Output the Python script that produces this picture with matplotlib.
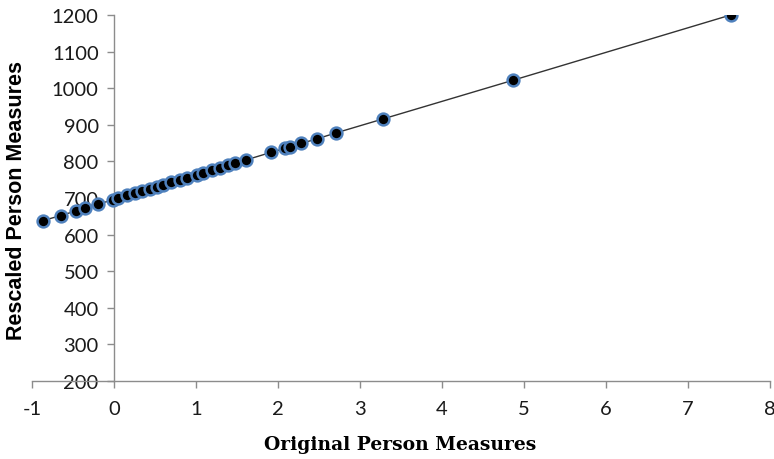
import matplotlib.pyplot as plt

plt.rcParams['axes.unicode_minus'] = False

# Original vs rescaled person measures
original = [-0.87, -0.65, -0.46, -0.35, -0.20, -0.01, 0.05, 0.16, 0.26, 0.34,
            0.44, 0.52, 0.60, 0.70, 0.80, 0.89, 1.01, 1.09, 1.19, 1.29,
            1.39, 1.48, 1.61, 1.92, 2.09, 2.15, 2.28, 2.48, 2.71, 3.28,
            4.87, 7.52]
rescaled = [638, 652, 665, 673, 683, 695, 699, 707, 713, 719,
            725, 731, 736, 743, 750, 756, 764, 769, 776, 782,
            789, 795, 804, 825, 836, 840, 849, 862, 878, 916,
            1022, 1200]

x_ticks = [-1, 0, 1, 2, 3, 4, 5, 6, 7, 8]
y_ticks = [200, 300, 400, 500, 600, 700, 800, 900, 1000, 1100, 1200]

fig = plt.figure(figsize=(7.74, 4.6), dpi=100)
ax = fig.add_axes([32 / 774, 78 / 460, 738 / 774, 366 / 460])

ax.plot(original, rescaled, color='#333333', linewidth=1.0, zorder=2)
ax.plot(original, rescaled, linestyle='none', marker='o', markersize=8.5,
        markerfacecolor='black', markeredgecolor='#4f81bd', markeredgewidth=1.8,
        zorder=3)

ax.set_xlim(-1, 8)
ax.set_ylim(200, 1200)
ax.set_xticks(x_ticks)
ax.set_yticks(y_ticks)

# y axis crosses at x = 0, like the Excel original
ax.spines['left'].set_position(('data', 0))
ax.spines['top'].set_visible(False)
ax.spines['right'].set_visible(False)
for side in ['left', 'bottom']:
    ax.spines[side].set_color('#8c8c8c')
    ax.spines[side].set_linewidth(1.0)

ax.tick_params(axis='both', color='#8c8c8c', length=5, width=1.0,
               labelsize=14.5, labelcolor='#1a1a1a')
ax.tick_params(axis='x', pad=9)
ax.tick_params(axis='y', pad=6)
for lab in ax.get_xticklabels() + ax.get_yticklabels():
    lab.set_family('Lato')

fig.text(0.517, 0.033, 'Original Person Measures', ha='center', va='center',
         fontsize=13.5, fontweight='bold', family='DejaVu Serif')
fig.text(0.021, 0.565, 'Rescaled Person Measures', ha='center', va='center',
         rotation=90, fontsize=15.5, fontweight='bold', family='Liberation Sans')

fig.savefig('out.png', dpi=100)
